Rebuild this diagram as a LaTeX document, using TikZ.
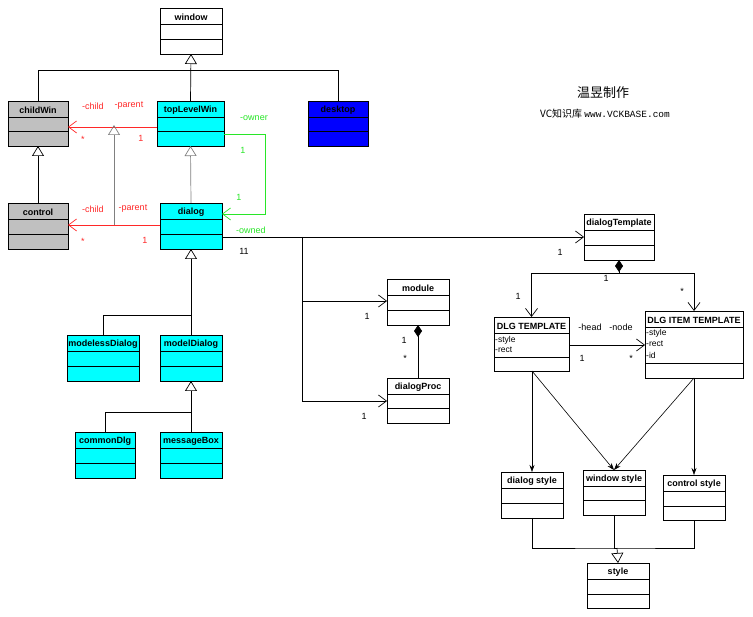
\documentclass[tikz,border=0pt]{standalone}
\usepackage{fontspec}
\setmainfont{Liberation Sans}
\setmonofont{Liberation Mono}
\newfontfamily\cjk{Noto Sans CJK SC}
\usetikzlibrary{arrows.meta,calc}
\definecolor{gr}{RGB}{192,192,192}
\definecolor{cy}{RGB}{0,255,255}
\definecolor{bl}{RGB}{0,0,255}
\definecolor{rd}{RGB}{255,40,40}
\definecolor{gn}{RGB}{40,230,40}
\tikzset{
 cbox/.style={draw,line width=0.9pt,inner sep=0,outer sep=0},
 ctitle/.style={font=\bfseries\fontsize{9}{10}\selectfont,inner sep=0},
 attr/.style={font=\fontsize{8.5}{9}\selectfont,inner sep=0,anchor=west},
 lab/.style={font=\fontsize{9}{10}\selectfont,inner sep=0},
 gen/.style={-{Triangle[open,length=10pt,width=12pt]},line width=0.7pt},
 assoc/.style={-{Straight Barb[length=8pt,width=12pt]},line width=0.7pt},
 dep/.style={-{Stealth[length=7pt,width=5pt]},line width=0.6pt},
 comp/.style={{Diamond[length=12pt,width=8pt]}-,line width=0.7pt},
}
\newcommand\cls[9]{%
 \node[cbox,fill=#6,minimum width={(#4-#2)*1pt},minimum height={(#5-#3)*1pt},anchor=north west] (#1) at (#2,#3) {};
 \draw[line width=0.9pt] (#2,#8)--(#4,#8) (#2,#9)--(#4,#9);
 \node[ctitle] at ({(#2+#4)/2},{(#3+#8)/2+1.5}) {#7};}
\begin{document}
\begin{tikzpicture}[x=1pt,y=-1pt]
\useasboundingbox[fill=white] (0,0) rectangle (753,617);
\cls{window}{160}{8}{222}{54}{white}{window}{24}{39}
\cls{childWin}{8}{101}{68}{146}{gr}{childWin}{117}{131}
\cls{topLevelWin}{157}{101}{224}{146}{cy}{topLevelWin}{117}{131}
\cls{desktop}{308}{101}{368}{146}{bl}{desktop}{117}{131}
\cls{control}{8}{203}{68}{249}{gr}{control}{219}{234}
\cls{dialog}{160}{203}{222}{249}{cy}{dialog}{219}{234}
\cls{modeless}{67}{335}{139}{381}{cy}{modelessDialog}{351}{366}
\cls{modelDialog}{160}{335}{222}{381}{cy}{modelDialog}{351}{366}
\cls{commonDlg}{75}{432}{135}{478}{cy}{commonDlg}{448}{463}
\cls{messageBox}{160}{432}{222}{478}{cy}{messageBox}{448}{463}
\cls{module}{387}{279}{449}{325}{white}{module}{295}{310}
\cls{dialogProc}{387}{378}{449}{423}{white}{dialogProc}{394}{408}
\cls{dialogTemplate}{584}{214}{654}{260}{white}{dialogTemplate}{230}{245}
\cls{dlgT}{494}{317}{569}{371}{white}{DLG TEMPLATE}{333}{357}
\node[attr] at (495,340) {-style};
\node[attr] at (495,350) {-rect};
\cls{dlgIT}{645}{311}{743}{378}{white}{DLG ITEM TEMPLATE}{327}{363}
\node[attr] at (646,333) {-style};
\node[attr] at (646,344) {-rect};
\node[attr] at (646,355) {-id};
\cls{dstyle}{501}{472}{563}{518}{white}{dialog style}{488}{503}
\cls{wstyle}{583}{470}{645}{515}{white}{window style}{486}{500}
\cls{cstyle}{663}{475}{725}{520}{white}{control style}{491}{506}
\cls{style}{587}{563}{649}{608}{white}{style}{579}{594}
\node[font=\cjk\fontsize{13}{14}\selectfont] (t1) at (603,93) {温昱制作};
\node[font=\cjk\fontsize{10}{11}\selectfont] (t2) at (605,114) {VC知识库 {\ttfamily\fontsize{9.5}{10}\selectfont www.VCKBASE.com}};
% generalizations
\draw[line width=0.7pt] (childWin.north) -- ++(0,-31) -| (desktop.north);
\draw[gen] (topLevelWin.north) -- (window.south);
\draw[gen] (control.north) -- (childWin.south);
\draw[gen,gray] (dialog.north) -- (topLevelWin.south);
\draw[line width=0.7pt] (modeless.north) -- ++(0,-20) -| ($(dialog.south)+(0,15)$);
\draw[gen] (modelDialog.north) -- (dialog.south);
\draw[line width=0.7pt] (commonDlg.north) -- ++(0,-20) -| ($(modelDialog.south)+(0,15)$);
\draw[gen] (messageBox.north) -- (modelDialog.south);
% red associations
\draw[assoc,rd] (topLevelWin.west|-0,127) -- (childWin.east|-0,127);
\draw[assoc,rd] (dialog.west|-0,225) -- (control.east|-0,225);
\coordinate (g1) at (114,225);
\draw[gen,gray] (g1) -- (114,125);
\node[lab,text=rd] at (93,106) {-child};
\node[lab,text=rd] at (129,106) {-parent};
\node[lab,text=rd] at (83,139) {*};
\node[lab,text=rd] at (141,138) {1};
\node[lab,text=rd] at (93,209) {-child};
\node[lab,text=rd] at (133,209) {-parent};
\node[lab,text=rd] at (83,241) {*};
\node[lab,text=rd] at (145,240) {1};
% green
\draw[assoc,gn] (topLevelWin.east|-0,134) -- (265,134) |- (dialog.east|-0,214);
\node[lab,text=gn] at (254,118) {-owner};
\node[lab,text=gn] at (243,150) {1};
\node[lab,text=gn] at (239,197) {1};
\node[lab,text=gn] at (251,230) {-owned};
% dialog associations
\draw[assoc] (dialog.east|-0,237) -- (dialogTemplate.west|-0,237);
\node[lab] at (244,251) {11};
\node[lab] at (560,252) {1};
\draw[assoc] (302,237) |- (module.west|-0,301);
\draw[assoc] (302,301) |- (dialogProc.west|-0,401);
\node[lab] at (367,316) {1};
\node[lab] at (364,416) {1};
\draw[comp] (module.south) -- (dialogProc.north);
\node[lab] at (404,340) {1};
\node[lab] at (405,358) {*};
% template
\draw[comp] (dialogTemplate.south) -- (619,273);
\draw[assoc] (619,273) -| (dlgT.north);
\draw[assoc] (619,273) -| (dlgIT.north);
\node[lab] at (518,296) {1};
\node[lab] at (606,278) {1};
\node[lab] at (682,291) {*};
\draw[assoc] (dlgT.east|-0,345) -- (dlgIT.west|-0,345);
\node[lab] at (590,327) {-head};
\node[lab] at (621,327) {-node};
\node[lab] at (582,358) {1};
\node[lab] at (631,358) {*};
\coordinate (d1) at (532,371);
\coordinate (d2) at (694,378);
\draw[dep] (d1) -- (dstyle.north);
\draw[dep] (d1) -- (wstyle.north);
\draw[dep] (d2) -- (wstyle.north);
\draw[dep] (d2) -- (cstyle.north);
% style generalization
\coordinate (s1) at (617,548);
\draw[line width=0.7pt] (dstyle.south) |- (s1) -| (cstyle.south);
\draw[line width=0.7pt] (wstyle.south) |- (s1);
\draw[gen] (s1) -- (style.north);
\end{tikzpicture}
\end{document}
